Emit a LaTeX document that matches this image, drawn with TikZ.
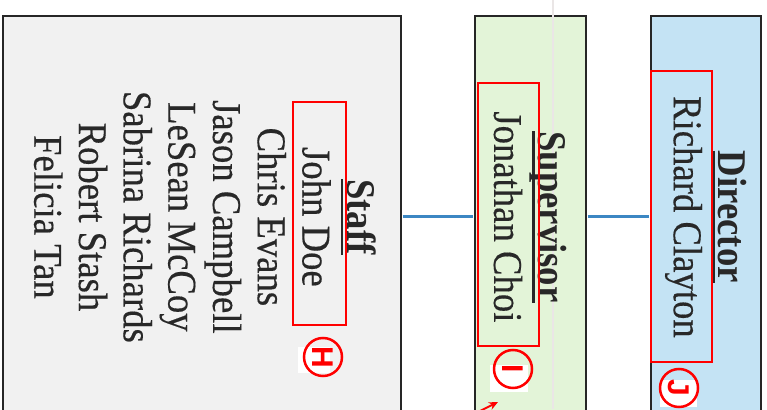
\documentclass[tikz,border=0pt]{standalone}
\usepackage{fontspec}
\setmainfont{Liberation Serif}[FakeStretch=0.9,UprightFeatures={FakeBold=0.35}]
\setsansfont{Liberation Sans}
\usepackage{xcolor}
\usetikzlibrary{arrows.meta}
\definecolor{staffgray}{RGB}{241,241,241}
\definecolor{supgreen}{RGB}{227,244,216}
\definecolor{dirblue}{RGB}{196,227,244}
\definecolor{linkblue}{RGB}{60,135,195}
\definecolor{inkgray}{RGB}{40,40,40}
\newcommand{\hdr}[1]{\setbox0\hbox{\bfseries #1}\rlap{\rule[-6.5pt]{\wd0}{2.6pt}}\box0}

\begin{document}
\begin{tikzpicture}[x=1pt,y=1pt,
    box/.style={draw=black!85, line width=1.8pt, minimum height=402pt, anchor=north west, inner sep=0pt},
    names/.style={rotate=-90, align=center, inner sep=0pt, text=inkgray, font=\fontsize{40.8}{44.7}\selectfont},
    link/.style={draw=linkblue, line width=3pt, shorten <=0.9pt, shorten >=0.9pt},
    hl/.style={draw=red, line width=2.2pt},
    tag/.style={circle, draw=red, line width=2.5pt, inner sep=0pt, minimum size=38pt, text=red, font=\sffamily\bfseries\fontsize{30}{30}\selectfont, rotate=-90}]
  \useasboundingbox (0,0) rectangle (767,409);
  \clip (0,0) rectangle (767,409);
  % the three columns
  \node[box, fill=staffgray, minimum width=398pt] (staff) at (2,394) {};
  \node[box, fill=supgreen, minimum width=111pt] (sup) at (474,394) {};
  \node[box, fill=dirblue, minimum width=110pt] (dir) at (650,394) {};
  % fold of the paper
  \draw[red!10!gray!18, line width=1.5pt] (553,409) -- (553,0);

  \draw[link] (staff.east) -- (sup.west);
  \draw[link] (sup.east) -- (dir.west);

  \node[names] (staff-list) at ([xshift=3pt]staff.center) {\hdr{Staff}\\John Doe\\Chris Evans\\Jason Campbell\\LeSean McCoy\\Sabrina Richards\\Robert Stash\\Felicia Tan};
  \node[names] (sup-list) at (sup.center) {\hdr{Supervisor}\\Jonathan Choi};
  \node[names] (dir-list) at (dir.center) {\hdr{Director}\\Richard Clayton};

  % red marks
  \draw[hl] (293,84) rectangle (346,307);
  \draw[hl] (478,63) rectangle (539,326);
  \draw[hl] (651,47) rectangle (712,338);
  \fill[white] (298,36) rectangle (330,62);
  \node[tag] (tag-h) at (323,52) {H};
  \fill[white] (490,17) rectangle (528,44);
  \node[tag] (tag-i) at (513,40) {I};
  \fill[white] (660,2) rectangle (697,29);
  \node[tag] (tag-j) at (679,21) {J};
  \draw[red, line width=2pt, -{Stealth[length=9pt,width=8pt]}] (476,-4) -- (498,7);
\end{tikzpicture}
\end{document}
